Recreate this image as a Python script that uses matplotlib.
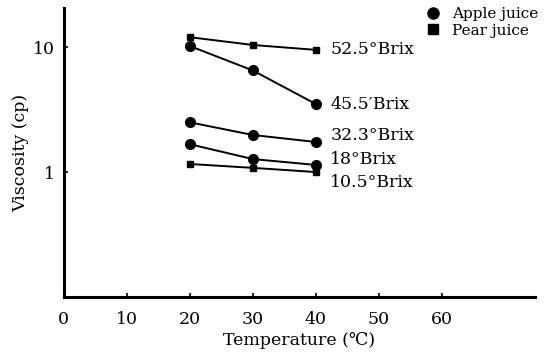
import matplotlib
matplotlib.use("Agg")
import matplotlib.pyplot as plt
from matplotlib.lines import Line2D

plt.rcParams['font.family'] = ['DejaVu Serif']

# Temperatures (C)
temps = [20, 30, 40]

# Viscosity (cp)
pear_525 = [12.0, 10.4, 9.5]
apple_455 = [10.2, 6.5, 3.5]
apple_323 = [2.5, 1.98, 1.74]
apple_18 = [1.67, 1.27, 1.14]
pear_105 = [1.16, 1.08, 1.0]

series = [
    (pear_525, 's', '52.5°Brix'),
    (apple_455, 'o', '45.5′Brix'),
    (apple_323, 'o', '32.3°Brix'),
    (apple_18, 'o', '18°Brix'),
    (pear_105, 's', '10.5°Brix'),
]
label_y = [9.5, 3.5, 1.95, 1.27, 0.83]

fig = plt.figure(figsize=(5.45, 3.54), dpi=100)
ax = fig.add_axes([0.117, 0.161, 0.865, 0.816])

for vals, mk, lab in series:
    ms = 7 if mk == 'o' else 4.5
    ax.plot(temps, vals, color='black', lw=1.4, marker=mk, markersize=ms)

for (vals, mk, lab), ly in zip(series, label_y):
    ax.text(42.3, ly, lab, fontsize=12.5, va='center', ha='left')

ax.set_yscale('log')
ax.set_xlim(0, 74.8)
ax.set_ylim(0.1, 20.5)
ax.set_xticks([0, 10, 20, 30, 40, 50, 60])
ax.set_yticks([1, 10])
ax.set_yticklabels(['1', '10'])
ax.minorticks_off()
ax.tick_params(direction='in', length=3, width=1.2, labelsize=12.5)
ax.tick_params(axis='x', pad=10)
ax.tick_params(axis='y', pad=6)

for s in ['top', 'right']:
    ax.spines[s].set_visible(False)
for s in ['left', 'bottom']:
    ax.spines[s].set_linewidth(2.2)

ax.set_xlabel('Temperature (℃)', fontsize=12.5, labelpad=3)
ax.set_ylabel('Viscosity (cp)', fontsize=12.5, labelpad=3)

handles = [
    Line2D([], [], ls='none', marker='o', color='black', markersize=8),
    Line2D([], [], ls='none', marker='s', color='black', markersize=7),
]
ax.legend(handles, ['Apple juice', 'Pear juice'], loc='upper right',
          bbox_to_anchor=(1.035, 1.05), frameon=False, fontsize=11,
          handletextpad=0.6, labelspacing=0.15, handlelength=1.2)

fig.savefig('out.png', dpi=100)
